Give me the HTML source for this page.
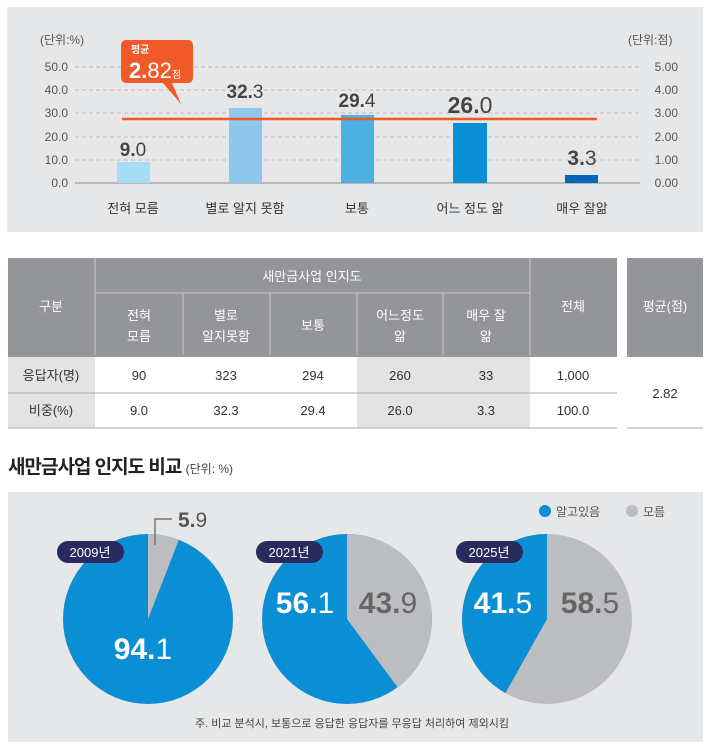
<!DOCTYPE html>
<html><head><meta charset="utf-8"><style>
body{margin:0;background:#fff;width:710px;height:749px;overflow:hidden}
svg text{font-family:"Liberation Sans","Noto Sans CJK KR",sans-serif}
</style></head><body>
<svg width="710" height="749" xmlns="http://www.w3.org/2000/svg">
<rect x="7" y="7" width="696" height="225" fill="#e6e7e9"/>
<g font-size="12" fill="#555">
<text x="40" y="44">(단위:%)</text><text x="628" y="44">(단위:점)</text>
</g>
<g stroke="#bdbdbd" stroke-dasharray="4,3">
<line x1="75" y1="67" x2="640" y2="67"/><line x1="75" y1="90" x2="640" y2="90"/><line x1="75" y1="113" x2="640" y2="113"/><line x1="75" y1="137" x2="640" y2="137"/><line x1="75" y1="160" x2="640" y2="160"/>
</g>
<line x1="75" y1="183" x2="640" y2="183" stroke="#aaa" stroke-width="1.5"/>
<g font-size="12" fill="#555" text-anchor="end">
<text x="68" y="71">50.0</text><text x="68" y="94">40.0</text><text x="68" y="117">30.0</text><text x="68" y="141">20.0</text><text x="68" y="164">10.0</text><text x="68" y="187">0.0</text>
<text x="678" y="71">5.00</text><text x="678" y="94">4.00</text><text x="678" y="117">3.00</text><text x="678" y="141">2.00</text><text x="678" y="164">1.00</text><text x="678" y="187">0.00</text>
</g>
<rect x="117" y="162" width="33" height="21" fill="#a7dcf5"/>
<rect x="229" y="108" width="33" height="75" fill="#8ec8ec"/>
<rect x="341" y="115" width="33" height="68" fill="#4cb0e3"/>
<rect x="453" y="123" width="34" height="60" fill="#0a8fd4"/>
<rect x="565" y="175" width="33" height="8" fill="#0068b5"/>
<line x1="122" y1="119" x2="597" y2="119" stroke="#f05a28" stroke-width="2.5"/>
<path d="M126 40 h62 a5 5 0 0 1 5 5 v33 a5 5 0 0 1 -5 5 h-16 l9 21 l-18 -21 h-37 a5 5 0 0 1 -5 -5 v-33 a5 5 0 0 1 5 -5z" fill="#f05a28"/>
<text x="131" y="53" font-size="10" fill="#fff" font-weight="bold">평균</text>
<text x="129" y="78" font-size="22" fill="#fff"><tspan font-weight="bold">2.</tspan><tspan>82</tspan><tspan font-size="10">점</tspan></text>
<g font-size="19" fill="#444" text-anchor="middle">
<text x="133" y="156"><tspan font-weight="bold">9.</tspan>0</text>
<text x="245" y="98"><tspan font-weight="bold">32.</tspan>3</text>
<text x="357" y="107"><tspan font-weight="bold">29.</tspan>4</text>
<text x="470" y="113" font-size="23"><tspan font-weight="bold">26.</tspan>0</text>
<text x="582" y="165" font-size="21"><tspan font-weight="bold">3.</tspan>3</text>
</g>
<g font-size="13" fill="#333" text-anchor="middle">
<text x="133" y="213">전혀 모름</text><text x="245" y="213">별로 알지 못함</text><text x="357" y="213">보통</text><text x="470" y="213">어느 정도 앎</text><text x="582" y="213">매우 잘앎</text>
</g>
<!-- table -->
<rect x="8" y="258" width="609" height="97" fill="#939598"/>
<rect x="627" y="258" width="76" height="97" fill="#939598"/>
<g stroke="#c8c8c8" stroke-width="1">
<line x1="95" y1="258" x2="95" y2="355"/><line x1="530" y1="258" x2="530" y2="355"/>
<line x1="95" y1="293" x2="530" y2="293"/>
<line x1="183" y1="293" x2="183" y2="355"/><line x1="270" y1="293" x2="270" y2="355"/><line x1="357" y1="293" x2="357" y2="355"/><line x1="443" y1="293" x2="443" y2="355"/>
</g>
<rect x="8" y="355" width="87" height="73" fill="#e4e3e3"/>
<rect x="357" y="355" width="173" height="73" fill="#e4e3e3"/>
<line x1="8" y1="356" x2="617" y2="356" stroke="#999" stroke-width="2"/>
<line x1="627" y1="356" x2="703" y2="356" stroke="#999" stroke-width="2"/>
<line x1="8" y1="393" x2="617" y2="393" stroke="#aaa"/>
<line x1="8" y1="428" x2="617" y2="428" stroke="#aaa"/>
<line x1="627" y1="428" x2="703" y2="428" stroke="#aaa"/>
<g font-size="13" fill="#fff" text-anchor="middle">
<text x="312" y="281">새만금사업 인지도</text>
<text x="51" y="311">구분</text><text x="573" y="311">전체</text><text x="665" y="311">평균(점)</text>
<text x="139" y="320">전혀</text><text x="139" y="341">모름</text>
<text x="226" y="320">별로</text><text x="226" y="341">알지못함</text>
<text x="313" y="330">보통</text>
<text x="400" y="320">어느정도</text><text x="400" y="341">앎</text>
<text x="486" y="320">매우 잘</text><text x="486" y="341">앎</text>
</g>
<g font-size="13" fill="#333" text-anchor="middle">
<text x="51" y="380">응답자(명)</text><text x="139" y="380">90</text><text x="226" y="380">323</text><text x="313" y="380">294</text><text x="400" y="380">260</text><text x="486" y="380">33</text><text x="573" y="380">1,000</text>
<text x="51" y="415">비중(%)</text><text x="139" y="415">9.0</text><text x="226" y="415">32.3</text><text x="313" y="415">29.4</text><text x="400" y="415">26.0</text><text x="486" y="415">3.3</text><text x="573" y="415">100.0</text>
<text x="665" y="398">2.82</text>
</g>
<text x="8" y="473" font-size="19" font-weight="bold" fill="#222" letter-spacing="-1">새만금사업 인지도 비교 <tspan font-size="12" font-weight="normal" fill="#444" letter-spacing="0">(단위: %)</tspan></text>
<rect x="8" y="492" width="695" height="250" fill="#e6e7e9"/>
<circle cx="545" cy="511" r="6" fill="#0a8fd4"/><text x="556" y="516" font-size="12" fill="#555">알고있음</text>
<circle cx="632" cy="511" r="6" fill="#bcbdc0"/><text x="643" y="516" font-size="12" fill="#555">모름</text>
<!-- pies r=85 -->
<circle cx="148" cy="619" r="85" fill="#0a8fd4"/>
<path d="M148 619 L148 534 A85 85 0 0 1 178.9 539.8 Z" fill="#bcbdc0"/>
<circle cx="347" cy="619" r="85" fill="#0a8fd4"/>
<path d="M347 619 L347 534 A85 85 0 0 1 397.6 687.3 Z" fill="#bcbdc0"/>
<circle cx="547" cy="619" r="85" fill="#bcbdc0"/>
<path d="M547 619 L547 534 A85 85 0 0 0 505.4 693.1 Z" fill="#0a8fd4"/>
<polyline points="155,545 155,519 172,519" fill="none" stroke="#777" stroke-width="1.5"/>
<g font-size="21" fill="#555"><text x="178" y="527"><tspan font-weight="bold">5.</tspan>9</text></g>
<g font-size="30" text-anchor="middle">
<text x="143" y="659" fill="#fff"><tspan font-weight="bold">94.</tspan>1</text>
<text x="305" y="613" fill="#fff"><tspan font-weight="bold">56.</tspan>1</text>
<text x="388" y="613" fill="#666"><tspan font-weight="bold">43.</tspan>9</text>
<text x="503" y="613" fill="#fff"><tspan font-weight="bold">41.</tspan>5</text>
<text x="590" y="613" fill="#666"><tspan font-weight="bold">58.</tspan>5</text>
</g>
<rect x="57" y="541" width="67" height="22" rx="11" fill="#2b2a5e"/><text x="90" y="557" font-size="13" fill="#fff" text-anchor="middle">2009년</text>
<rect x="256" y="541" width="67" height="22" rx="11" fill="#2b2a5e"/><text x="289" y="557" font-size="13" fill="#fff" text-anchor="middle">2021년</text>
<rect x="456" y="541" width="67" height="22" rx="11" fill="#2b2a5e"/><text x="489" y="557" font-size="13" fill="#fff" text-anchor="middle">2025년</text>
<text x="352" y="727" font-size="11" fill="#444" text-anchor="middle">주. 비교 분석시, 보통으로 응답한 응답자를 무응답 처리하여 제외시킴</text>
</svg>
</body></html>
